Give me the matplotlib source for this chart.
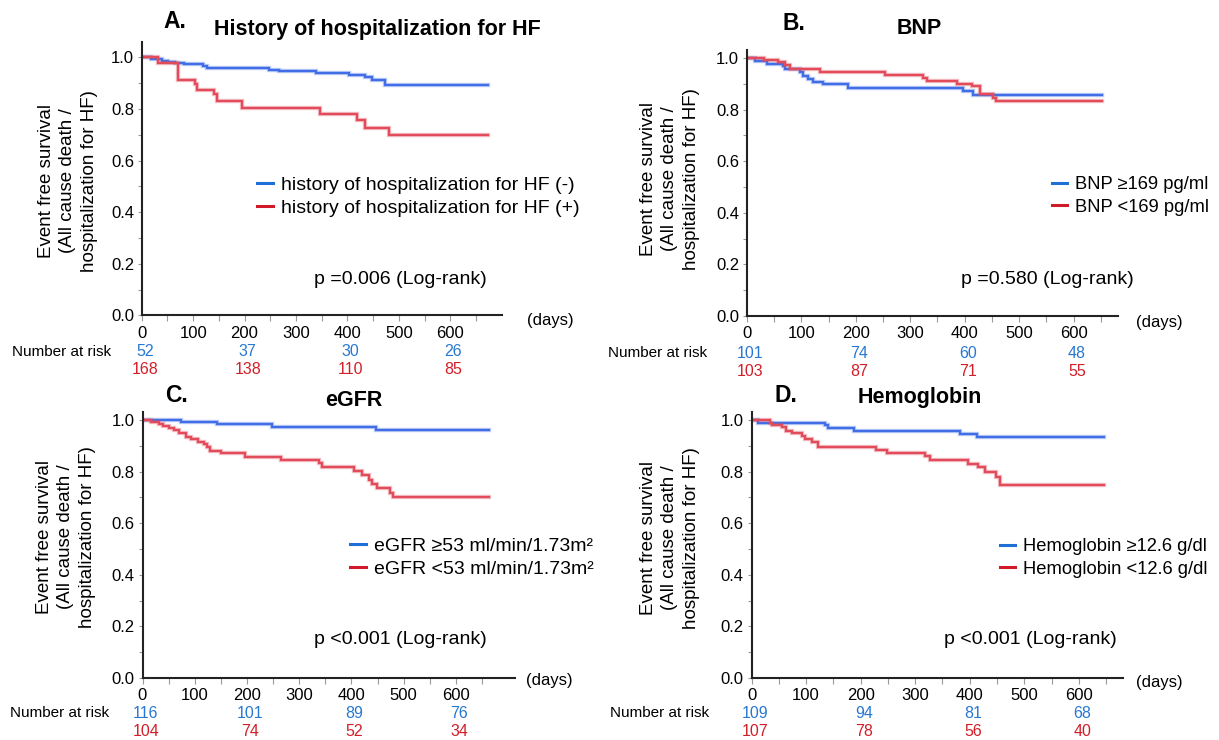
import matplotlib.pyplot as plt
import matplotlib.transforms as mtransforms
from matplotlib.lines import Line2D

plt.rcParams['font.family'] = ['Liberation Sans', 'DejaVu Sans']

W, H = 1219, 740

# ---- data (days, event free survival) ----
# A. History of hospitalization for HF
a_t_neg = [0, 19, 39, 52, 64, 83, 120, 127, 247, 266, 338, 403, 435, 448, 474, 674]
a_s_neg = [1.0, 0.993, 0.987, 0.983, 0.98, 0.975, 0.967, 0.96, 0.952, 0.946, 0.938, 0.932, 0.923, 0.911, 0.894, 0.894]
a_t_pos = [0, 32, 70, 103, 107, 141, 146, 196, 346, 419, 435, 481, 674]
a_s_pos = [1.0, 0.978, 0.913, 0.897, 0.873, 0.857, 0.831, 0.806, 0.78, 0.757, 0.727, 0.70, 0.70]

# B. BNP
b_t_hi = [0, 15, 37, 67, 70, 98, 104, 113, 122, 140, 186, 397, 416, 652]
b_s_hi = [1.0, 0.987, 0.978, 0.968, 0.957, 0.944, 0.932, 0.92, 0.908, 0.899, 0.884, 0.873, 0.855, 0.855]
b_t_lo = [0, 32, 57, 70, 79, 134, 253, 323, 331, 386, 414, 428, 452, 457, 652]
b_s_lo = [1.0, 0.991, 0.983, 0.974, 0.957, 0.946, 0.935, 0.922, 0.911, 0.90, 0.89, 0.86, 0.845, 0.832, 0.832]

# C. eGFR
c_t_hi = [0, 74, 142, 247, 447, 664]
c_s_hi = [1.0, 0.991, 0.983, 0.974, 0.961, 0.961]
c_t_lo = [0, 16, 32, 40, 51, 61, 70, 83, 93, 106, 117, 123, 129, 150, 196, 265, 337, 343,
          404, 420, 433, 440, 449, 474, 479, 664]
c_s_lo = [1.0, 0.992, 0.985, 0.977, 0.968, 0.96, 0.948, 0.935, 0.926, 0.916, 0.906, 0.894, 0.881,
          0.871, 0.858, 0.845, 0.832, 0.819, 0.804, 0.787, 0.768, 0.752, 0.735, 0.716, 0.70, 0.70]

# D. Hemoglobin
d_t_hi = [0, 12, 135, 141, 187, 382, 414, 647]
d_s_hi = [1.0, 0.99, 0.98, 0.968, 0.957, 0.946, 0.935, 0.935]
d_t_lo = [0, 33, 37, 55, 64, 75, 92, 98, 110, 121, 229, 248, 318, 327, 397, 416, 428, 449, 455, 647]
d_s_lo = [1.0, 0.99, 0.98, 0.971, 0.958, 0.948, 0.939, 0.926, 0.916, 0.894, 0.883, 0.873, 0.86,
          0.844, 0.831, 0.818, 0.80, 0.779, 0.747, 0.747]

# number at risk
risk_days = [0, 200, 400, 600]
a_risk = ([52, 37, 30, 26], [168, 138, 110, 85])
b_risk = ([101, 74, 60, 48], [103, 87, 71, 55])
c_risk = ([116, 101, 89, 76], [104, 74, 52, 34])
d_risk = ([109, 94, 81, 68], [107, 78, 56, 40])

letters = ['A.', 'B.', 'C.', 'D.']
titles = ['History of hospitalization for HF', 'BNP', 'eGFR', 'Hemoglobin']
legend_labels = [
    ['history of hospitalization for HF (-)', 'history of hospitalization for HF (+)'],
    ['BNP \u2265169 pg/ml', 'BNP <169 pg/ml'],
    ['eGFR \u226553 ml/min/1.73m\u00b2', 'eGFR <53 ml/min/1.73m\u00b2'],
    ['Hemoglobin \u226512.6 g/dl', 'Hemoglobin <12.6 g/dl'],
]
p_texts = ['p =0.006 (Log-rank)', 'p =0.580 (Log-rank)', 'p <0.001 (Log-rank)', 'p <0.001 (Log-rank)']
ylabel = 'Event free survival\n(All cause death /\nhospitalization for HF)'

curves = [(a_t_neg, a_s_neg, a_t_pos, a_s_pos),
          (b_t_hi, b_s_hi, b_t_lo, b_s_lo),
          (c_t_hi, c_s_hi, c_t_lo, c_s_lo),
          (d_t_hi, d_s_hi, d_t_lo, d_s_lo)]
risks = [a_risk, b_risk, c_risk, d_risk]

# ---- layout (pixels) ----
panels = [
    dict(left=141.7, y0=315.5, width=360, xmax=700, ymax=1.06,
         letter=(163, 21), title=(377, 29), ylab=(68, 181), legend=(257, 176), legsize=14,
         ptxt=(314, 280), days=(550, 320), nar=(12, 352, 370)),
    dict(left=746.8, y0=316, width=371, xmax=681, ymax=1.03,
         letter=(782, 24), title=(919, 28), ylab=(670, 179), legend=(1052, 176), legsize=13.2,
         ptxt=(961, 280), days=(1159, 322), nar=(608, 353, 372)),
    dict(left=142.5, y0=678, width=372, xmax=712, ymax=1.03,
         letter=(165, 395), title=(354, 400), ylab=(66, 537), legend=(350, 537), legsize=14,
         ptxt=(314, 640), days=(549, 681), nar=(10, 713, 731)),
    dict(left=751.5, y0=678, width=371, xmax=680, ymax=1.03,
         letter=(775, 395), title=(920, 398), ylab=(670, 538), legend=(1000, 538), legsize=13.2,
         ptxt=(944, 640), days=(1159, 682), nar=(610, 713, 731)),
]
PX_PER_UNIT = 258

BLUE, RED = '#416ee6', '#e14b5a'
BLUE_LEG, RED_LEG = '#1f6fd6', '#d01a2a'
BLUE_NUM, RED_NUM = '#2878d2', '#d21e28'

fig = plt.figure(figsize=(W / 100, H / 100), dpi=100)


def fx(x):
    return x / W


def fy(y):
    return 1 - y / H


for i, p in enumerate(panels):
    h = PX_PER_UNIT * p['ymax']
    ax = fig.add_axes([fx(p['left']), fy(p['y0']), p['width'] / W, h / H])
    t1, s1, t2, s2 = curves[i]
    for t, s, c in [(t1, s1, BLUE), (t2, s2, RED)]:
        ax.step(t, s, where='post', color=c, lw=3.2, alpha=0.3, solid_joinstyle='miter')
        ax.step(t, s, where='post', color=c, lw=1.7, solid_joinstyle='miter')

    ax.set_xlim(0, p['xmax'])
    ax.set_ylim(0, p['ymax'])
    ax.set_xticks(range(0, 601, 100))
    ax.set_xticks(range(50, 651, 100), minor=True)
    ax.set_yticks([0, 0.2, 0.4, 0.6, 0.8, 1.0])
    ax.set_yticks([0.1, 0.3, 0.5, 0.7, 0.9], minor=True)
    ax.set_yticklabels(['0.0', '0.2', '0.4', '0.6', '0.8', '1.0'])
    ax.tick_params(axis='x', which='both', direction='out', length=4, width=0.8,
                   color='#999999', labelsize=12, pad=3.5)
    ax.tick_params(axis='y', which='both', direction='out', length=3, width=0.8,
                   color='#999999', labelsize=12, pad=2.5)
    for side in ['top', 'right']:
        ax.spines[side].set_visible(False)
    for side in ['left', 'bottom']:
        ax.spines[side].set_color('#222222')
        ax.spines[side].set_linewidth(1.5)

    # titles
    fig.text(fx(p['letter'][0]), fy(p['letter'][1]), letters[i], fontsize=16.5,
             fontweight='bold', ha='left', va='center')
    fig.text(fx(p['title'][0]), fy(p['title'][1]), titles[i], fontsize=15.5,
             fontweight='bold', ha='center', va='center')

    # y label
    fig.text(fx(p['ylab'][0]), fy(p['ylab'][1]), ylabel, fontsize=13.5, rotation=90,
             ha='center', va='center', multialignment='center', linespacing=1.38)

    # legend
    handles = [Line2D([], [], color=BLUE_LEG, lw=2.2), Line2D([], [], color=RED_LEG, lw=2.2)]
    fig.legend(handles, legend_labels[i], loc='upper left',
               bbox_to_anchor=(fx(p['legend'][0]), fy(p['legend'][1])),
               frameon=False, fontsize=p['legsize'], handlelength=0.8, handletextpad=0.45,
               labelspacing=0.3, borderpad=0, borderaxespad=0)

    # p value
    fig.text(fx(p['ptxt'][0]), fy(p['ptxt'][1]), p_texts[i], fontsize=14,
             ha='left', va='center')

    # (days)
    fig.text(fx(p['days'][0]), fy(p['days'][1]), '(days)', fontsize=12,
             ha='center', va='center')

    # number at risk
    nx, ny1, ny2 = p['nar']
    fig.text(fx(nx), fy(ny1), 'Number at risk', fontsize=11, ha='left', va='center')
    tr = mtransforms.blended_transform_factory(ax.transData, fig.transFigure)
    for d, n1, n2 in zip(risk_days, risks[i][0], risks[i][1]):
        ax.text(d + 6, fy(ny1), str(n1), transform=tr, color=BLUE_NUM, fontsize=11.5,
                ha='center', va='center', clip_on=False)
        ax.text(d + 6, fy(ny2), str(n2), transform=tr, color=RED_NUM, fontsize=11.5,
                ha='center', va='center', clip_on=False)

fig.savefig('out.png', dpi=100)
plt.close(fig)
